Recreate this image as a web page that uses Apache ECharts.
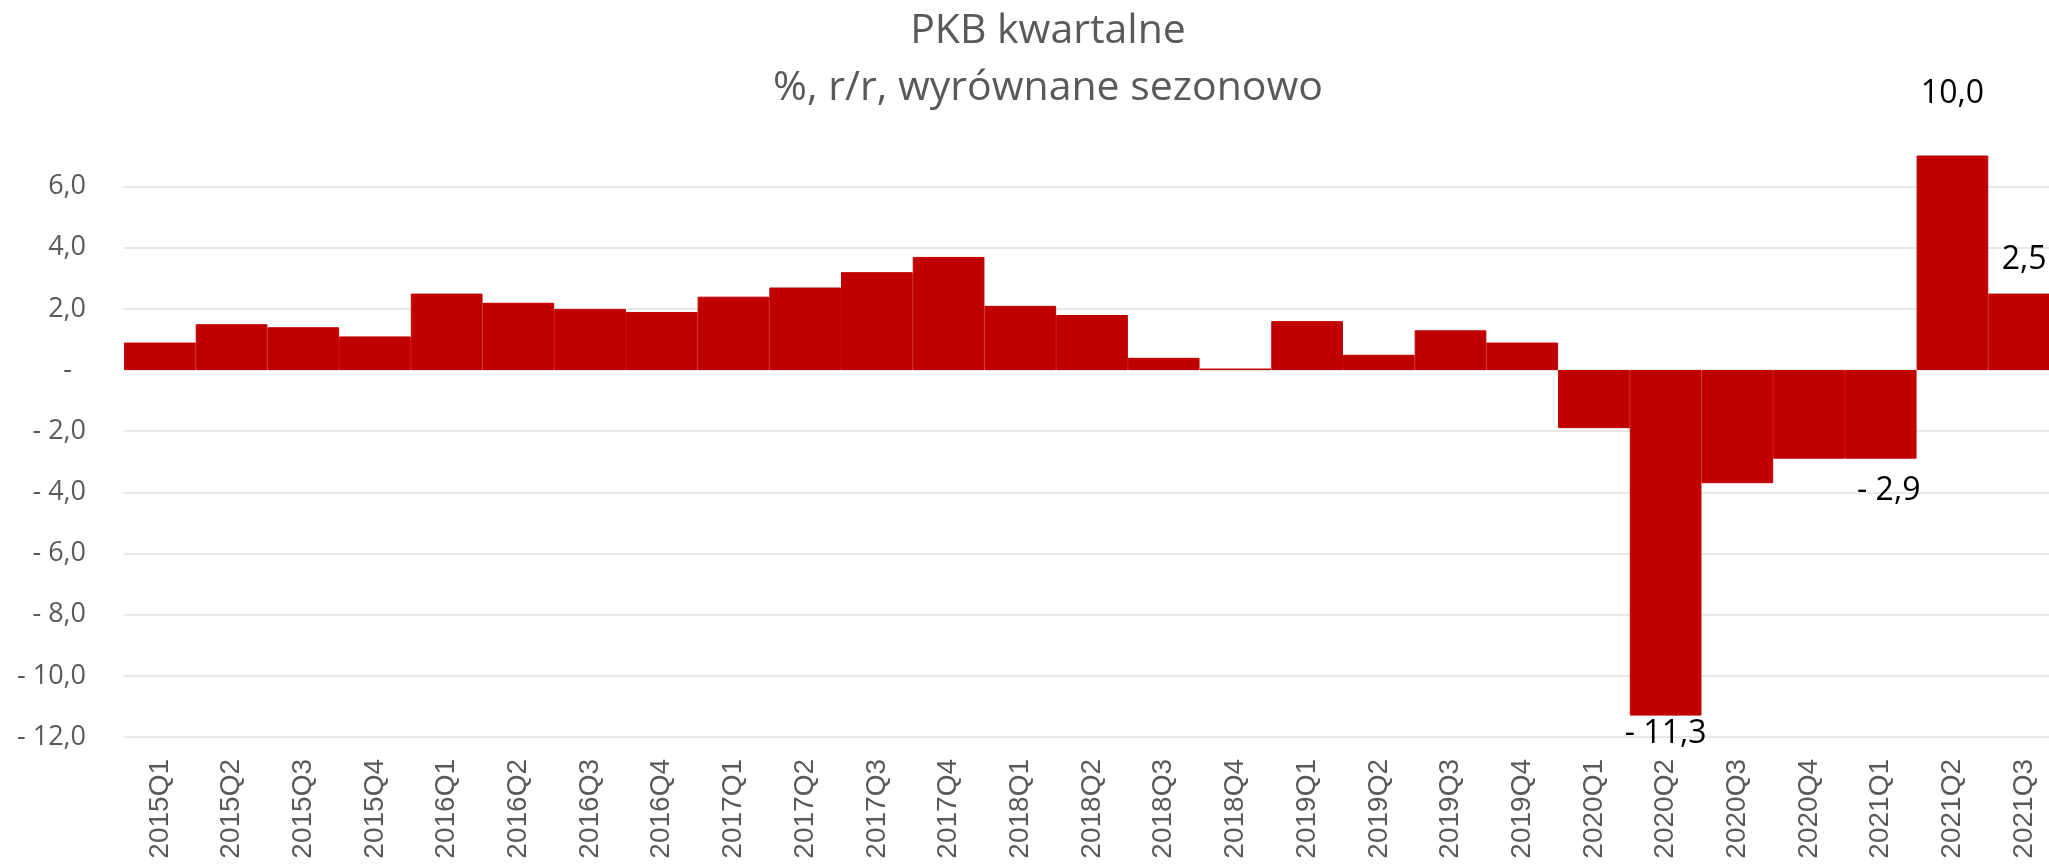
<!DOCTYPE html>
<html>
<head>
<meta charset="utf-8">
<title>PKB kwartalne</title>
<script src="https://cdn.jsdelivr.net/npm/echarts@6/dist/echarts.min.js"></script>
<style>
	html, body { margin: 0; padding: 0; background: #fff; }
	#main-echarts { width: 2049px; height: 864px; }
</style>
</head>
<body>
<div id="main-echarts"></div>
<script>
	// dane: PKB kwartalne, % r/r, wyrównane sezonowo
	const quarters = [
		'2015Q1', '2015Q2', '2015Q3', '2015Q4',
		'2016Q1', '2016Q2', '2016Q3', '2016Q4',
		'2017Q1', '2017Q2', '2017Q3', '2017Q4',
		'2018Q1', '2018Q2', '2018Q3', '2018Q4',
		'2019Q1', '2019Q2', '2019Q3', '2019Q4',
		'2020Q1', '2020Q2', '2020Q3', '2020Q4',
		'2021Q1', '2021Q2', '2021Q3',
	]
	const gdpYoY = [
		0.9, 1.5, 1.4, 1.1,
		2.5, 2.2, 2.0, 1.9,
		2.4, 2.7, 3.2, 3.7,
		2.1, 1.8, 0.4, 0.05,
		1.6, 0.5, 1.3, 0.9,
		-1.9, -11.3, -3.7, -2.9,
		-2.9, 10.0, 2.5,
	]
	const labelledQuarters = ['2020Q2', '2021Q1', '2021Q2', '2021Q3']
	const yMin = -12
	const yMax = 7
	const yStep = 2

	// format jak w Excelu (księgowy): "- 2,0", "-", "6,0"
	function fmtPl(v) {
		if (v === 0) return '-  '
		const s = Math.abs(v).toFixed(1).replace('.', ',')
		return v < 0 ? '- ' + s : s
	}

	// przesunięcia etykiet ręcznie dopasowane
	const labelTweaks = {
		'2020Q2': { distance: 2, offset: [0, 0] },
		'2021Q1': { distance: 16, offset: [8, 0] },
		'2021Q2': { distance: 46, offset: [0, 0] },
		'2021Q3': { distance: 18, offset: [0, 0] },
	}

	const seriesData = gdpYoY.map((v, i) => {
		const q = quarters[i]
		if (labelledQuarters.indexOf(q) < 0) return v
		const t = labelTweaks[q]
		return {
			value: v,
			label: {
				show: true,
				position: v < 0 ? 'bottom' : 'top',
				distance: t.distance,
				offset: t.offset,
			},
		}
	})

	const gridLineColors = []
	for (let v = yMin; v <= yMax; v += yStep) gridLineColors.push('#e0e0e0')
	gridLineColors.push('rgba(0,0,0,0)')

	const chart = echarts.init(document.getElementById('main-echarts'), null, { renderer: 'canvas' })
	const option = {
		animation: false,
		title: {
			text: 'PKB kwartalne\n%, r/r, wyrównane sezonowo',
			left: 1043,
			top: -2,
			textAlign: 'center',
			textStyle: {
				fontFamily: 'Open Sans',
				fontWeight: 'normal',
				fontSize: 41,
				lineHeight: 57,
				color: '#595959',
			},
		},
		grid: {
			left: 124,
			top: 156,
			width: 1936,
			height: 581,
			outerBoundsMode: 'none',
		},
		xAxis: {
			type: 'category',
			data: quarters,
			axisLine: { show: false, onZero: false },
			axisTick: { show: false },
			axisLabel: {
				rotate: 90,
				interval: 0,
				margin: 22,
				fontFamily: 'Liberation Sans',
				fontSize: 28,
				color: '#595959',
			},
			splitLine: { show: false },
		},
		yAxis: {
			type: 'value',
			min: yMin,
			max: yMax,
			interval: yStep,
			axisLine: { show: false },
			axisTick: { show: false },
			axisLabel: {
				margin: 38,
				fontFamily: 'Open Sans',
				fontSize: 27,
				color: '#595959',
				showMaxLabel: false,
				formatter: (v) => (v > 6 ? '' : fmtPl(v)),
			},
			splitLine: {
				show: true,
				showMaxLine: false,
				lineStyle: { color: gridLineColors, width: 1.5 },
			},
		},
		series: [
			{
				type: 'bar',
				data: seriesData,
				barCategoryGap: '0%',
				clip: true,
				itemStyle: { color: '#C00000', borderColor: '#C00000', borderWidth: 1 },
				label: {
					show: false,
					fontFamily: 'Open Sans',
					fontSize: 32,
					color: '#000',
					formatter: (p) => fmtPl(p.value),
				},
			},
		],
	}
	chart.setOption(option)
</script>
</body>
</html>
